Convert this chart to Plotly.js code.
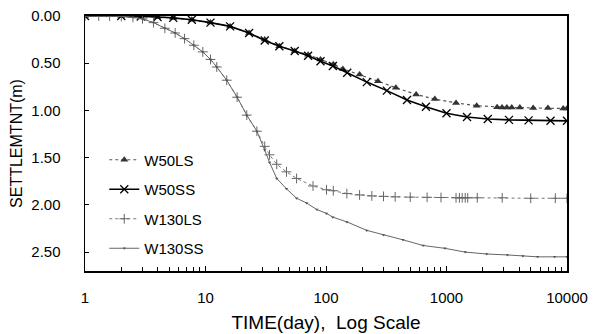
<!DOCTYPE html>
<html>
<head>
<meta charset="utf-8">
<script src="https://cdn.plot.ly/plotly-3.0.1.min.js"></script>
<style>html,body{margin:0;padding:0;background:#fff;}#chart{width:593px;height:334px;}</style>
</head>
<body>
<div id="chart"></div>
<script>
// Time (day) and settlement (m)
const w50lsT = [1, 2, 2.9, 4, 5.4, 7.7, 11, 16, 23, 31, 41, 55, 71, 90, 115, 138, 190, 270, 380, 560, 800, 1200, 1780, 2630, 2890, 3170, 3480, 4060, 5240, 6950, 9300, 10000];
const w50lsS = [0, 0, 0.005, 0.01, 0.02, 0.04, 0.07, 0.11, 0.18, 0.25, 0.32, 0.37, 0.41, 0.46, 0.51, 0.56, 0.62, 0.69, 0.76, 0.83, 0.88, 0.92, 0.95, 0.965, 0.97, 0.97, 0.97, 0.97, 0.975, 0.975, 0.98, 0.98];

const w50ssT = [1, 2, 2.9, 4, 5.4, 7.7, 11, 16, 23, 31, 41, 55, 71, 90, 114, 150, 218, 320, 470, 675, 1000, 1480, 2200, 3300, 4800, 7300, 10000];
const w50ssS = [0, 0, 0.005, 0.01, 0.02, 0.04, 0.07, 0.11, 0.18, 0.26, 0.32, 0.37, 0.42, 0.48, 0.53, 0.60, 0.70, 0.79, 0.89, 0.96, 1.03, 1.07, 1.09, 1.10, 1.105, 1.11, 1.11];

const w130lsT = [1, 1.3, 1.6, 2, 2.5, 3, 3.7, 4.6, 5.6, 6.7, 8, 9.5, 11, 12.4, 15, 18.3, 22, 26.7, 31, 34, 39, 47, 57, 78, 101, 115, 149, 190, 240, 300, 375, 500, 690, 900, 1200, 1280, 1350, 1430, 1500, 1800, 2900, 5000, 8000, 10000];
const w130lsS = [0, 0, 0, 0.005, 0.015, 0.03, 0.07, 0.13, 0.18, 0.24, 0.31, 0.38, 0.46, 0.54, 0.68, 0.86, 1.05, 1.22, 1.38, 1.47, 1.57, 1.65, 1.72, 1.80, 1.84, 1.85, 1.88, 1.895, 1.905, 1.91, 1.915, 1.918, 1.92, 1.922, 1.925, 1.925, 1.925, 1.925, 1.925, 1.925, 1.925, 1.93, 1.93, 1.93];

const w130ssT = [1, 1.5, 2, 2.5, 3, 3.7, 4.6, 5.6, 6.7, 8, 9.5, 11, 12.4, 15, 18.3, 22, 26.7, 31, 34, 39, 47, 57, 69, 84, 101, 114, 149, 218, 300, 435, 640, 970, 1430, 2160, 3200, 4300, 5700, 7900, 10000];
const w130ssS = [0, 0, 0.005, 0.015, 0.03, 0.07, 0.13, 0.18, 0.24, 0.31, 0.38, 0.46, 0.54, 0.68, 0.86, 1.05, 1.22, 1.42, 1.55, 1.72, 1.83, 1.93, 1.98, 2.05, 2.09, 2.13, 2.18, 2.27, 2.32, 2.37, 2.43, 2.46, 2.50, 2.52, 2.53, 2.54, 2.55, 2.55, 2.55];

const seriesNames = ['W50LS', 'W50SS', 'W130LS', 'W130SS'];
const yTicks = [0, 0.5, 1.0, 1.5, 2.0, 2.5];
const xTicks = [1, 10, 100, 1000, 10000];
const xTickText = ['1', '10', '100', '1000', '10000'];

const minorX = [];
for (let k = 0; k < 4; k++) for (let m = 2; m <= 9; m++) minorX.push(m * Math.pow(10, k));

const font = 'Liberation Sans, Arial, sans-serif';

const traces = [
  {x: w50lsT, y: w50lsS, name: seriesNames[0], legendgroup: 'a', mode: 'lines+markers',
   line: {color: '#555', width: 1.2, dash: 'dot'},
   marker: {symbol: 'triangle-up', size: 7, color: '#333'}},
  {x: w50ssT, y: w50ssS, name: seriesNames[1], legendgroup: 'b', mode: 'lines+markers',
   line: {color: '#000', width: 1.6},
   marker: {symbol: 'x-thin', size: 8, line: {color: '#000', width: 1.3}}},
  {x: w130lsT, y: w130lsS, name: seriesNames[2], legendgroup: 'c', mode: 'lines+markers',
   line: {color: '#777', width: 1, dash: 'dot'},
   marker: {symbol: 'cross-thin', size: 7, line: {color: '#666', width: 1}}},
  {x: w130ssT, y: w130ssS, name: seriesNames[3], legendgroup: 'd', mode: 'lines+markers',
   line: {color: '#666', width: 1},
   marker: {symbol: 'triangle-down', size: 3, color: '#555'}}
];

const layout = {
  width: 593, height: 334,
  margin: {l: 85, r: 26, t: 16, b: 63},
  paper_bgcolor: '#fff', plot_bgcolor: '#fff',
  font: {family: font, color: '#000', size: 14},
  showlegend: true,
  legend: {x: 0.04, y: 0.5, xanchor: 'left', yanchor: 'top', bgcolor: 'rgba(0,0,0,0)',
           font: {family: font, size: 15, color: '#000'}, traceorder: 'grouped', tracegroupgap: 7, itemwidth: 30},
  xaxis: {type: 'log', range: [0, 4], tickmode: 'array', tickvals: xTicks, ticktext: xTickText,
          ticks: 'inside', ticklen: 5, tickcolor: '#000', showgrid: false, zeroline: false,
          showline: true, linecolor: '#000', linewidth: 2, mirror: true,
          ticklabelstandoff: 12, tickfont: {family: font, size: 15},
          minor: {tickmode: 'array', tickvals: minorX, ticks: 'inside', ticklen: 4, tickcolor: '#000', showgrid: false},
          title: {text: 'TIME(day),  Log Scale', font: {family: font, size: 19}, standoff: 11}},
  yaxis: {range: [2.7, 0], tickmode: 'array', tickvals: yTicks, tickformat: '.2f',
          ticks: 'inside', ticklen: 4, tickcolor: '#000', showgrid: false, zeroline: false,
          showline: true, linecolor: '#000', linewidth: 1.5, mirror: true,
          ticklabelstandoff: 20, tickfont: {family: font, size: 15},
          title: {text: 'SETTLEMTNT(m)', font: {family: font, size: 16}, standoff: 4}}
};

Plotly.newPlot('chart', traces, layout, {displayModeBar: false, staticPlot: true});
</script>
</body>
</html>
